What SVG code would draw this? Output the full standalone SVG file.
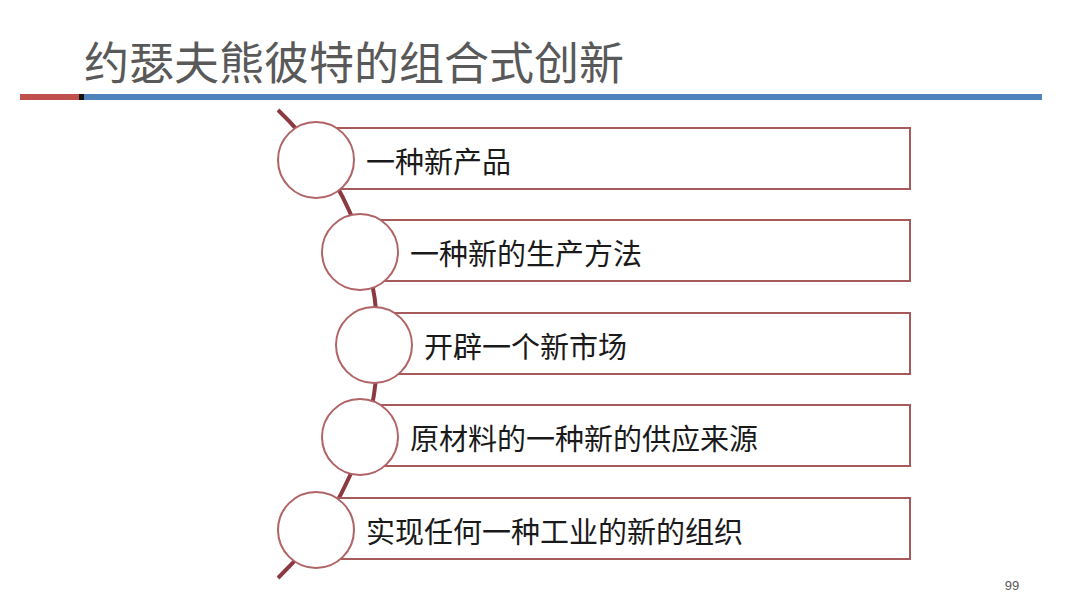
<svg xmlns="http://www.w3.org/2000/svg" width="1080" height="607" viewBox="0 0 1080 607">
<style>
.box{fill:#fff;stroke:#A65A5C;stroke-width:2}
.circ{fill:#fff;stroke:#B06466;stroke-width:2}
.lbl{font-family:"Noto Sans CJK SC","Noto Sans",sans-serif;font-size:29px;fill:#1a1a1a;dominant-baseline:central}
.title{font-family:"Noto Sans CJK SC","Noto Sans",sans-serif;font-size:45px;fill:#595959}
</style>
<rect width="1080" height="607" fill="#fff"/>
<text class="title" x="84" y="80">约瑟夫熊彼特的组合式创新</text>
<rect x="20" y="94" width="60" height="6" fill="#C0504D"/>
<rect x="79" y="94" width="5" height="6" fill="#111"/>
<rect x="84" y="94" width="958" height="6" fill="#4F81BD"/>
<g id="connectors">
<path d="M278,110 A324,324 0 0 1 278,578" fill="none" stroke="#8B3A42" stroke-width="4"/>
</g>
<g id="n1"><rect class="box" x="316" y="128" width="594" height="61"/><circle class="circ" cx="316" cy="160" r="38"/><text class="lbl" x="366" y="160">一种新产品</text></g>
<g id="n2"><rect class="box" x="360" y="220" width="550" height="61"/><circle class="circ" cx="360" cy="252" r="38"/><text class="lbl" x="410" y="252">一种新的生产方法</text></g>
<g id="n3"><rect class="box" x="374" y="313" width="536" height="61"/><circle class="circ" cx="374" cy="345" r="38"/><text class="lbl" x="424" y="345">开辟一个新市场</text></g>
<g id="n4"><rect class="box" x="360" y="405" width="550" height="61"/><circle class="circ" cx="360" cy="437" r="38"/><text class="lbl" x="410" y="437">原材料的一种新的供应来源</text></g>
<g id="n5"><rect class="box" x="316" y="498" width="594" height="61"/><circle class="circ" cx="316" cy="530" r="38"/><text class="lbl" x="366" y="530">实现任何一种工业的新的组织</text></g>
<text x="1012" y="590" font-family="Liberation Sans,Arial,sans-serif" font-size="13" fill="#595959" text-anchor="middle">99</text>
</svg>
